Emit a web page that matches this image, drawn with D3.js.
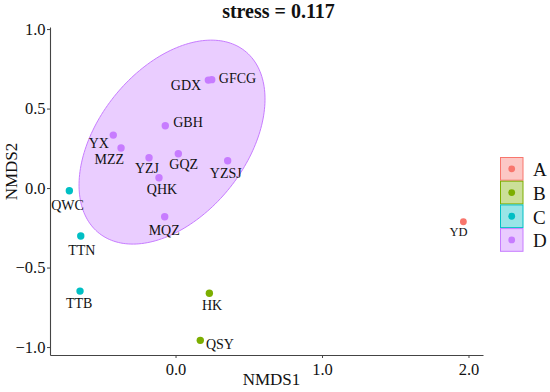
<!DOCTYPE html>
<html>
<head>
<meta charset="utf-8">
<script src="https://cdn.jsdelivr.net/npm/d3@7"></script>
<style>
html,body{margin:0;padding:0;background:#fff;}
svg{display:block;}
svg text{font-family:"Liberation Serif","Times New Roman",serif;}
</style>
</head>
<body>
<svg id="chart" width="550" height="392"></svg>
<script>
// ---- data ----
const sites  = ["GDX","GFCG","GBH","YX","MZZ","YZJ","GQZ","YZSJ","QHK","MQZ","QWC","TTN","TTB","HK","QSY","YD"];
const groups = ["D","D","D","D","D","D","D","D","D","D","C","C","C","B","B","A"];
const nmds1  = [0.224,0.247,-0.070,-0.425,-0.372,-0.181,0.019,0.356,-0.113,-0.074,-0.725,-0.647,-0.652,0.231,0.169,1.965];
const nmds2  = [0.679,0.682,0.392,0.333,0.252,0.191,0.216,0.172,0.065,-0.180,-0.017,-0.302,-0.648,-0.662,-0.958,-0.212];
const groupNames = ["A","B","C","D"];
const xTicks = [0,1,2];
const yTicks = [-1,-0.5,0,0.5,1];
const stressText = "stress = 0.117";
// ellipse for group D (data space): centre, semi-axes, rotation (deg)
const ellipseD = {cx:-0.024, cy:0.289, a:0.761, b:0.485, angle:45.7};

// ---- layout / style ----
const colors = {A:"#F8766D", B:"#7CAE00", C:"#00BFC4", D:"#C77CFF"};
// label offsets in px (dx to text centre, dy to baseline)
const labelOffsets = [[-22.3,10],[25.8,3.8],[22.7,1.6],[-14.5,13.3],[-11.8,16],[-2,15.6],[5.4,15.3],[-1.9,17],[3,16.3],[-0.5,18.3],[-1.8,19.3],[1,19],[-0.8,17.3],[2.7,16.7],[19.7,9],[-4.8,14.3]];

const svg = d3.select("#chart");
const x = d3.scaleLinear().domain([-0.857, 2.099]).range([50, 483]);
const y = d3.scaleLinear().domain([-1.05, 1.013]).range([355, 27]);

// ellipse
const N = 200, th = ellipseD.angle*Math.PI/180;
const ePts = d3.range(N).map(i=>{
  const t = 2*Math.PI*i/N;
  const ex = ellipseD.a*Math.cos(t), ey = ellipseD.b*Math.sin(t);
  return [x(ellipseD.cx + ex*Math.cos(th) - ey*Math.sin(th)), y(ellipseD.cy + ex*Math.sin(th) + ey*Math.cos(th))];
});
svg.append("path")
  .attr("d", d3.line()(ePts) + "Z")
  .attr("fill", colors.D).attr("fill-opacity", 0.38)
  .attr("stroke", colors.D).attr("stroke-width", 1);

// axes
const xAxis = svg.append("g").attr("transform","translate(0,355)")
  .call(d3.axisBottom(x).tickValues(xTicks).tickFormat(d3.format(".1f")).tickSize(3).tickSizeOuter(0).tickPadding(5));
const yAxis = svg.append("g").attr("transform","translate(50,0)")
  .call(d3.axisLeft(y).tickValues(yTicks).tickFormat(d3.format(".1f")).tickSize(3).tickSizeOuter(0).tickPadding(1.5));
[xAxis,yAxis].forEach(g=>{
  g.attr("font-family", null).attr("font-size", null);
  g.select(".domain").attr("stroke","#444").attr("stroke-width",1.1);
  g.selectAll(".tick line").attr("stroke","#444");
  g.selectAll(".tick text").attr("fill","#111").style("font-size","16.5px");
});

// points
const idx = d3.range(sites.length);
svg.append("g").selectAll("circle").data(idx).join("circle")
  .attr("cx", i=>x(nmds1[i])).attr("cy", i=>y(nmds2[i]))
  .attr("r", i=>sites[i]==="YD"?3.4:3.7)
  .attr("fill", i=>colors[groups[i]]);

// labels
svg.append("g").selectAll("text").data(idx).join("text")
  .attr("x", i=>x(nmds1[i])+labelOffsets[i][0])
  .attr("y", i=>y(nmds2[i])+labelOffsets[i][1])
  .attr("text-anchor","middle")
  .attr("fill","#111")
  .style("font-size", i=>sites[i]==="YD"?"12.5px":"14px")
  .text(i=>sites[i]);

// title
svg.append("text").attr("x",278.5).attr("y",17.5).attr("text-anchor","middle")
  .style("font-size","20px").style("font-weight","bold").attr("fill","#111").text(stressText);

// axis titles
svg.append("text").attr("x",271.5).attr("y",385).attr("text-anchor","middle")
  .style("font-size","17px").attr("fill","#111").text("NMDS1");
svg.append("text").attr("transform","translate(17,171.5) rotate(-90)").attr("text-anchor","middle")
  .style("font-size","17px").attr("fill","#111").text("NMDS2");

// legend
const lg = svg.append("g").attr("transform","translate(500,157)");
const rowH = 23.7;
groupNames.forEach((g,i)=>{
  const r = lg.append("g").attr("transform",`translate(0,${i*rowH})`);
  r.append("rect").attr("x",0.5).attr("y",0.5).attr("width",22.5).attr("height",rowH-1)
    .attr("fill",colors[g]).attr("fill-opacity",0.4).attr("stroke",colors[g]).attr("stroke-width",1);
  r.append("circle").attr("cx",11.7).attr("cy",rowH/2).attr("r",3.4).attr("fill",colors[g]);
  r.append("text").attr("x",33).attr("y",rowH/2+7.3).style("font-size","19px").attr("fill","#111").text(g);
});
</script>
</body>
</html>
